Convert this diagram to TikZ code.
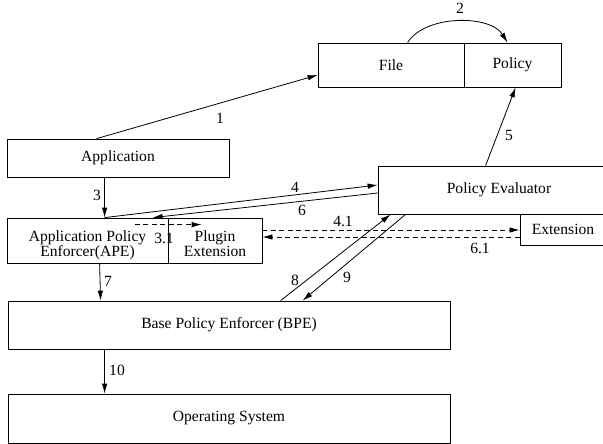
\documentclass[tikz,border=0pt]{standalone}
\usepackage{fontspec}
\setmainfont{Liberation Serif}
\usetikzlibrary{arrows.meta}
\newcommand{\twolines}[2]{\raisebox{-5pt}[\height][\depth]{\begin{tabular}{@{}c@{}}#1\\#2\end{tabular}}}
\begin{document}
\begin{tikzpicture}[x=1pt,y=-1pt,
  every node/.style={font=\fontsize{15.6}{14.5}\selectfont},
  box/.style={draw,line width=0.8pt,inner sep=0pt,align=center},
  conn/.style={line width=0.8pt,-{Latex[length=10pt,width=5.5pt]}},
  dconn/.style={conn,dash pattern=on 5pt off 3.5pt},
  lbl/.style={inner sep=0pt}]
\path[use as bounding box] (0,0) rectangle (603,444);
\clip (0,0) rectangle (603,444);
% boxes
\node[box,minimum width=146pt,minimum height=44pt] (file) at (391,65) {File};
\node[box,minimum width=97pt,minimum height=44pt] (policy) at (512.5,65) {Policy};
\node[box,minimum width=222pt,minimum height=38pt] (app) at (118,158) {Application};
\node[box,minimum width=242pt,minimum height=48pt] (pe) at (499,190) {Policy Evaluator};
\node[box,minimum width=86pt,minimum height=31pt] (ext) at (563,229.5) {Extension};
\node[box,minimum width=161pt,minimum height=45pt] (ape) at (87.5,240.5) {\twolines{Application Policy}{Enforcer(APE)}};
\node[box,minimum width=94pt,minimum height=45pt] (plugin) at (215,240.5) {\twolines{Plugin}{Extension}};
\node[box,minimum width=442pt,minimum height=48pt] (bpe) at (229,325) {Base Policy Enforcer (BPE)};
\node[box,minimum width=442pt,minimum height=49pt] (os) at (229,418.5) {Operating System};
% connectors
\draw[conn] ([xshift=90pt]app.north west) -- ([yshift=-10pt]file.west);
\draw[conn] ([xshift=90pt]file.north west) to[out=58,in=122,looseness=0.85] ([xshift=44pt]policy.north west);
\draw[conn] ([xshift=98pt]app.south west) -- ([xshift=98pt]ape.north west);
\draw[conn] ([xshift=98pt]ape.north west) -- ([yshift=5pt]pe.west);
\draw[conn] ([yshift=-3pt]pe.west) -- ([xshift=146pt]ape.north west);
\draw[dconn] ([xshift=128pt,yshift=-7pt]ape.north west) -- ([xshift=34pt,yshift=-7pt]plugin.north west);
\draw[dconn] ([yshift=10.5pt]plugin.east) -- ([yshift=10.5pt]plugin.east -| ext.west);
\draw[dconn] ([yshift=-7.5pt]ext.west) -- ([yshift=-7.5pt]ext.west -| plugin.east);
\draw[conn] ([xshift=108pt]pe.north west) -- ([xshift=52pt]policy.south west);
\draw[conn] ([xshift=93pt]ape.south west) -- ([xshift=93pt]bpe.north west);
\draw[conn] ([xshift=273pt]bpe.north west) -- ([xshift=13pt]pe.south west);
\draw[conn] ([xshift=28pt]pe.south west) -- ([xshift=295pt]bpe.north west);
\draw[conn] ([xshift=97pt]bpe.south west) -- ([xshift=97pt]os.north west);
% labels
\node[lbl] (l1) at (220,118) {1};
\node[lbl] (l2) at (460,8) {2};
\node[lbl] (l3) at (97,195) {3};
\node[lbl] (l31) at (164,238) {3.1};
\node[lbl] (l4) at (295,187) {4};
\node[lbl] (l41) at (343,221) {4.1};
\node[lbl] (l5) at (509,135) {5};
\node[lbl] (l6) at (302,210) {6};
\node[lbl] (l61) at (480,248) {6.1};
\node[lbl] (l7) at (108,281) {7};
\node[lbl] (l8) at (295,280) {8};
\node[lbl] (l9) at (347,277) {9};
\node[lbl] (l10) at (117,370) {10};
\end{tikzpicture}
\end{document}
